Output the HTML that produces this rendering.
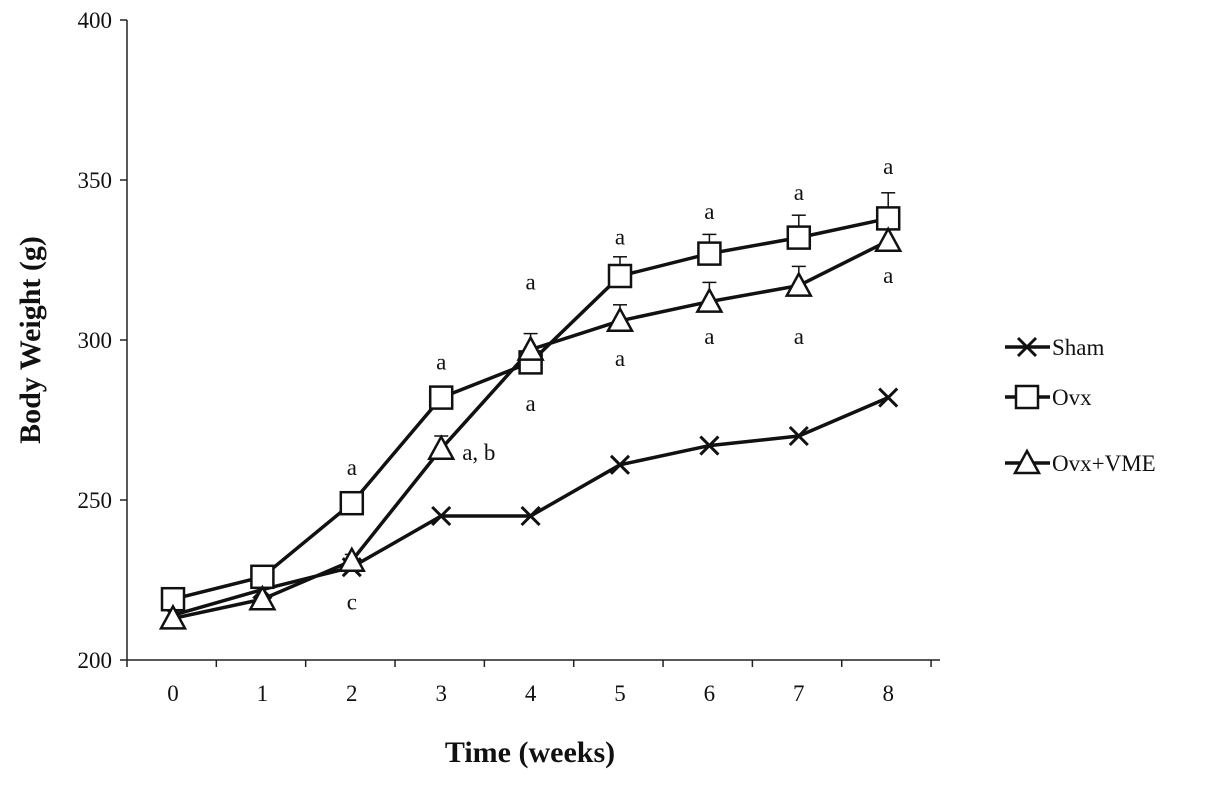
<!DOCTYPE html>
<html><head><meta charset="utf-8"><style>
body{margin:0;background:#fff}
svg text{font-family:"Liberation Serif",serif;fill:#111}
</style></head><body>
<svg id="chart" width="1205" height="783" viewBox="0 0 1205 783" xmlns="http://www.w3.org/2000/svg">
<g id="axes"></g>
<g id="marks"></g>
<g id="legend"></g>
</svg>
<script>
const weeks=[0,1,2,3,4,5,6,7,8];
const yTicks=[200,250,300,350,400];
const sham=[214,222,229,245,245,261,267,270,282];
const ovx=[219,226,249,282,293,320,327,332,338];
const ovxErr=[0,0,0,0,0,6,6,7,8];
const vme=[213,219,231,266,297,306,312,317,331];
const vmeErr=[0,0,2,4,5,5,6,6,0];
const annotations=[[2,260,"a"],[3,293,"a"],[4,318,"a"],[5,332,"a"],[6,340,"a"],[7,346,"a"],[8,354,"a"],[4,280,"a"],[5,294,"a"],[6,301,"a"],[7,301,"a"],[8,320,"a"],[2,218,"c"]];
const ns="http://www.w3.org/2000/svg";
const X=w=>173+w*89.4, Y=v=>660-(v-200)*3.2;
function mk(p,t,a){const e=document.createElementNS(ns,t);for(const k in a)e.setAttribute(k,a[k]);p.appendChild(e);return e;}
const axes=document.getElementById('axes'),marks=document.getElementById('marks'),leg=document.getElementById('legend');
let e=mk(axes,'line',{x1:127,y1:20,x2:127,y2:660,stroke:'#222','stroke-width':1.5});

e=mk(axes,'line',{x1:127,y1:660,x2:940,y2:660,stroke:'#222','stroke-width':1.5});

yTicks.forEach(v=>{mk(axes,'line',{x1:120,x2:127,y1:Y(v),y2:Y(v),stroke:'#222','stroke-width':1.5});
 const t=mk(axes,'text',{x:112,y:Y(v)+8,'text-anchor':'end','font-size':23});t.textContent=v;
 });
for(let i=0;i<=9;i++){const x=127+i*(813/9.1);mk(axes,'line',{x1:x,x2:x,y1:660,y2:667,stroke:'#222','stroke-width':1.5});}
weeks.forEach(w=>{const t=mk(axes,'text',{x:X(w),y:701,'text-anchor':'middle','font-size':23});t.textContent=w;
 });
e=mk(axes,'text',{x:530,y:762,'text-anchor':'middle','font-size':30,'font-weight':'bold'});e.textContent='Time (weeks)';

e=mk(axes,'text',{x:40,y:340,'text-anchor':'middle','font-size':30,'font-weight':'bold',transform:'rotate(-90 40 340)'});e.textContent='Body Weight (g)';

function line(vals,name){const p=mk(marks,'polyline',{points:vals.map((v,i)=>X(weeks[i])+','+Y(v)).join(' '),fill:'none',stroke:'#111','stroke-width':3.5});
 }
function err(vals,errs){vals.forEach((v,i)=>{if(!errs[i])return;const x=X(weeks[i]),y1=Y(v),y2=Y(v+errs[i]);
 mk(marks,'line',{x1:x,x2:x,y1:y1,y2:y2,stroke:'#111','stroke-width':1.5});mk(marks,'line',{x1:x-7,x2:x+7,y1:y2,y2:y2,stroke:'#111','stroke-width':1.5});});}
function cross(g,x,y){mk(g,'path',{d:`M${x-9},${y-9}L${x+9},${y+9}M${x-9},${y+9}L${x+9},${y-9}`,stroke:'#111','stroke-width':3});}
function sq(g,x,y){mk(g,'rect',{x:x-11,y:y-11,width:22,height:22,fill:'#fff',stroke:'#111','stroke-width':2.5});}
function tri(g,x,y){mk(g,'polygon',{points:`${x},${y-12} ${x-12},${y+10} ${x+12},${y+10}`,fill:'#fff',stroke:'#111','stroke-width':2.5});}
err(ovx,ovxErr);err(vme,vmeErr);
line(sham,'sham');line(ovx,'ovx');line(vme,'ovx-vme');
sham.forEach((v,i)=>{const g=mk(marks,'g',{});cross(g,X(weeks[i]),Y(v));});
ovx.forEach((v,i)=>{const g=mk(marks,'g',{});sq(g,X(weeks[i]),Y(v));});
vme.forEach((v,i)=>{const g=mk(marks,'g',{});tri(g,X(weeks[i]),Y(v));});
annotations.forEach(a=>{const t=mk(marks,'text',{x:X(a[0]),y:Y(a[1])+7,'text-anchor':'middle','font-size':23});t.textContent=a[2];
 });
e=mk(marks,'text',{x:X(3)+21,y:Y(266)+11,'font-size':23});e.textContent='a, b';

[['Sham',347,cross],['Ovx',397,sq],['Ovx+VME',463,tri]].forEach(l=>{const g=mk(leg,'g',{});
 
 mk(g,'line',{x1:1005,x2:1050,y1:l[1],y2:l[1],stroke:'#111','stroke-width':3.5});l[2](g,1027,l[1]);
 const t=mk(g,'text',{x:1052,y:l[1]+8,'font-size':23});t.textContent=l[0];});
</script>
</body></html>
